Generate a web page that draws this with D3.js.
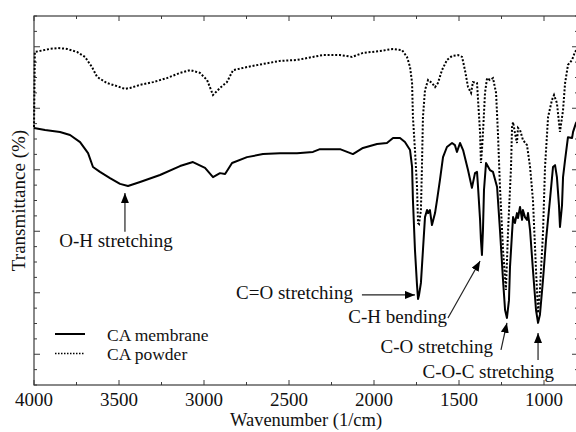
<!DOCTYPE html>
<html><head><meta charset="utf-8">
<script src="https://cdn.jsdelivr.net/npm/d3@7"></script>
<style>body{margin:0;background:#fff}svg{display:block}
svg text{font-family:"Liberation Serif","Times New Roman",Times,serif;}
</style>
</head><body><svg id="chart" width="576" height="432"></svg>
<script>
// ---- data ----
const membraneWavenumber = [4000,3935,3847,3788,3729,3682,3653,3612,3553,3494,3447,3376,3259,3141,3065,2994,2947,2906,2876,2835,2747,2653,2553,2453,2359,2318,2200,2124,2065,1982,1924,1888,1847,1818,1788,1776,1771,1759,1747,1741,1735,1724,1712,1700,1688,1682,1671,1659,1641,1629,1612,1594,1571,1541,1524,1512,1494,1476,1447,1424,1406,1394,1388,1376,1371,1365,1359,1353,1341,1318,1300,1276,1259,1241,1229,1218,1206,1200,1188,1182,1171,1159,1153,1141,1129,1124,1112,1100,1094,1082,1065,1047,1035,1024,1006,988,965,947,935,924,912,906,894,888,876,859,835,829,812,800];
const membraneTransmittance = [83.6,82.9,82.3,81.3,79.0,75.4,70.9,69.3,67.3,65.4,64.7,66.0,68.3,71.2,72.5,70.6,67.6,68.9,68.6,72.2,74.1,75.1,75.4,75.4,75.8,76.7,76.7,75.1,77.1,78.4,78.7,80.3,80.3,79.0,76.4,70.9,60.2,43.9,32.5,28.0,29.3,33.2,43.9,54.6,56.9,55.9,56.9,52.0,55.9,60.2,66.7,74.1,77.4,78.7,78.0,75.8,78.7,76.4,69.9,64.1,68.9,69.3,64.4,53.7,47.2,42.3,50.4,63.4,72.2,69.9,69.3,64.4,50.4,34.1,24.4,21.8,27.6,38.4,49.4,54.6,52.7,55.9,54.3,57.9,53.7,56.9,54.6,53.7,55.9,50.4,37.4,24.4,20.2,22.8,34.1,47.2,60.2,70.9,71.5,67.6,58.5,51.4,58.5,67.6,73.2,80.6,80.3,82.3,85.2,86.2];

const powderWavenumber = [4000,3995,3906,3859,3806,3747,3700,3659,3629,3571,3512,3465,3435,3376,3300,3218,3141,3082,3024,2982,2947,2906,2865,2829,2747,2653,2553,2453,2359,2300,2200,2129,2065,1965,1888,1835,1806,1788,1776,1771,1759,1747,1741,1735,1724,1718,1712,1700,1682,1659,1641,1624,1600,1571,1541,1506,1482,1465,1447,1429,1418,1394,1388,1376,1371,1365,1359,1347,1335,1318,1300,1282,1271,1259,1241,1224,1212,1194,1188,1182,1171,1159,1153,1141,1124,1100,1082,1065,1047,1035,1024,1006,994,976,953,941,924,906,888,876,859,835,818,800];
const powderTransmittance = [83.9,108.3,109.3,109.6,109.3,108.3,106.7,103.4,100.2,98.2,97.2,96.3,96.6,97.6,98.5,99.8,101.5,102.4,101.5,99.2,94.3,96.6,98.5,102.4,103.4,104.4,105.4,105.7,106.7,107.3,107.3,106.7,108.0,108.6,109.3,108.9,106.7,103.4,98.2,87.2,76.4,64.4,52.7,52.4,56.9,70.9,87.2,95.9,99.2,98.2,96.9,98.2,102.4,105.7,107.0,107.3,106.7,102.4,96.9,95.0,98.5,98.2,92.7,82.0,72.2,76.4,82.0,95.0,99.8,99.2,99.8,95.0,82.0,64.4,43.9,30.9,49.4,70.9,83.9,85.5,82.0,78.7,83.6,82.9,79.7,78.0,70.9,60.2,37.4,23.4,30.9,49.4,70.9,87.2,92.7,94.3,91.7,82.3,89.4,98.2,104.1,105.7,108.3,109.6];

const xMajorTicks = [4000,3500,3000,2500,2000,1500,1000];
const xMinorTicks = [3750,3250,2750,2250,1750,1250];
const yMajorTicks = [10,30,50,70,90,110];
const yMinorTicks = d3.range(0,121,5).filter(v => (v - 10) % 20 !== 0);
const seriesNames = ["CA membrane","CA powder"];
const xTitle = "Wavenumber (1/cm)";
const yTitle = "Transmittance (%)";

// annotations: label, text anchor point, arrow tail, arrow tip (in data units)
const annotationLabels = ["O-H stretching","C=O stretching","C-H bending","C-O stretching","C-O-C stretching"];
const annotationTextPos = [[3518,44.9,"middle"],[2124,28.0,"end"],[1571,20.2,"end"],[1300,10.4,"end"],[941,2.3,"end"]];
const annotationTail = [[3465,49.8],[2071,29.3],[1565,21.8],[1253,11.4],[1035,8.1]];
const annotationTip  = [[3465,62.4],[1759,29.3],[1376,40.3],[1218,20.2],[1035,16.9]];

// ---- chart ----
const plot = {left:34, right:578, top:16, bottom:385};
const svg = d3.select("#chart");

const x = d3.scaleLinear().domain([4000,800]).range([plot.left, plot.right]);
const y = d3.scaleLinear().domain([0,120]).range([plot.bottom, plot.top]);

const frameColor = "#3a3a3a";

// ticks (inward on all four sides)
const tickG = svg.append("g").attr("stroke", frameColor).attr("stroke-width", 1);
function xt(v, len){
  tickG.append("line").attr("x1", x(v)).attr("x2", x(v)).attr("y1", plot.bottom).attr("y2", plot.bottom - len);
  tickG.append("line").attr("x1", x(v)).attr("x2", x(v)).attr("y1", plot.top).attr("y2", plot.top + len);
}
xMajorTicks.forEach(v => xt(v, 5));
xMinorTicks.forEach(v => xt(v, 3));
function yt(v, len){
  tickG.append("line").attr("y1", y(v)).attr("y2", y(v)).attr("x1", plot.left).attr("x2", plot.left + len);
  tickG.append("line").attr("y1", y(v)).attr("y2", y(v)).attr("x1", plot.right).attr("x2", plot.right - len);
}
yMajorTicks.forEach(v => yt(v, 6));
yMinorTicks.forEach(v => yt(v, 3));

// frame
svg.append("rect").attr("x", plot.left).attr("y", plot.top)
  .attr("width", plot.right - plot.left).attr("height", plot.bottom - plot.top)
  .attr("fill", "none").attr("stroke", frameColor).attr("stroke-width", 1.2);

// x tick labels
svg.append("g").selectAll("text").data(xMajorTicks).join("text")
  .attr("x", d => x(d)).attr("y", 406).attr("text-anchor", "middle")
  .attr("font-size", 19).attr("fill", "#111")
  .text(d => d);

// axis titles
svg.append("text").attr("x", (plot.left + plot.right)/2).attr("y", 426)
  .attr("text-anchor", "middle").attr("font-size", 18.5).attr("fill", "#111")
  .text(xTitle);
svg.append("text").attr("transform", `translate(25,${(plot.top + plot.bottom)/2}) rotate(-90)`)
  .attr("text-anchor", "middle").attr("font-size", 19).attr("fill", "#111")
  .text(yTitle);

// lines
const line = d3.line().x(d => x(d[0])).y(d => y(d[1]));
const membrane = membraneWavenumber.map((w,i) => [w, membraneTransmittance[i]]);
const powder = powderWavenumber.map((w,i) => [w, powderTransmittance[i]]);
svg.append("path").attr("d", line(powder)).attr("fill", "none")
  .attr("stroke", "#000").attr("stroke-width", 2).attr("stroke-dasharray", "2,1.8");
svg.append("path").attr("d", line(membrane)).attr("fill", "none")
  .attr("stroke", "#000").attr("stroke-width", 2).attr("stroke-linejoin", "round");

// arrow marker
svg.append("defs").append("marker").attr("id", "ah")
  .attr("viewBox", "0 0 10 8").attr("refX", 10).attr("refY", 4)
  .attr("markerWidth", 10).attr("markerHeight", 8).attr("markerUnits", "userSpaceOnUse")
  .attr("orient", "auto")
  .append("path").attr("d", "M0,0 L10,4 L0,8 Z").attr("fill", "#000");

const ann = svg.append("g");
annotationLabels.forEach((lab, i) => {
  const [tw, tt, anchor] = annotationTextPos[i];
  ann.append("text").attr("x", x(tw)).attr("y", y(tt)).attr("text-anchor", anchor)
    .attr("font-size", 19).attr("fill", "#111").text(lab);
  ann.append("line")
    .attr("x1", x(annotationTail[i][0])).attr("y1", y(annotationTail[i][1]))
    .attr("x2", x(annotationTip[i][0])).attr("y2", y(annotationTip[i][1]))
    .attr("stroke", "#222").attr("stroke-width", 1.2).attr("marker-end", "url(#ah)");
});

// legend
const legend = svg.append("g");
const legendRows = [334, 353.5];
seriesNames.forEach((name, i) => {
  const ly = legendRows[i];
  legend.append("line").attr("x1", 55).attr("x2", 85).attr("y1", ly).attr("y2", ly)
    .attr("stroke", "#000").attr("stroke-width", i === 0 ? 2 : 1.5)
    .attr("stroke-dasharray", i === 0 ? null : "1.5,1.5");
  legend.append("text").attr("x", 107).attr("y", ly + 6.5)
    .attr("font-size", 17.5).attr("fill", "#111").text(name);
});
</script></body></html>
